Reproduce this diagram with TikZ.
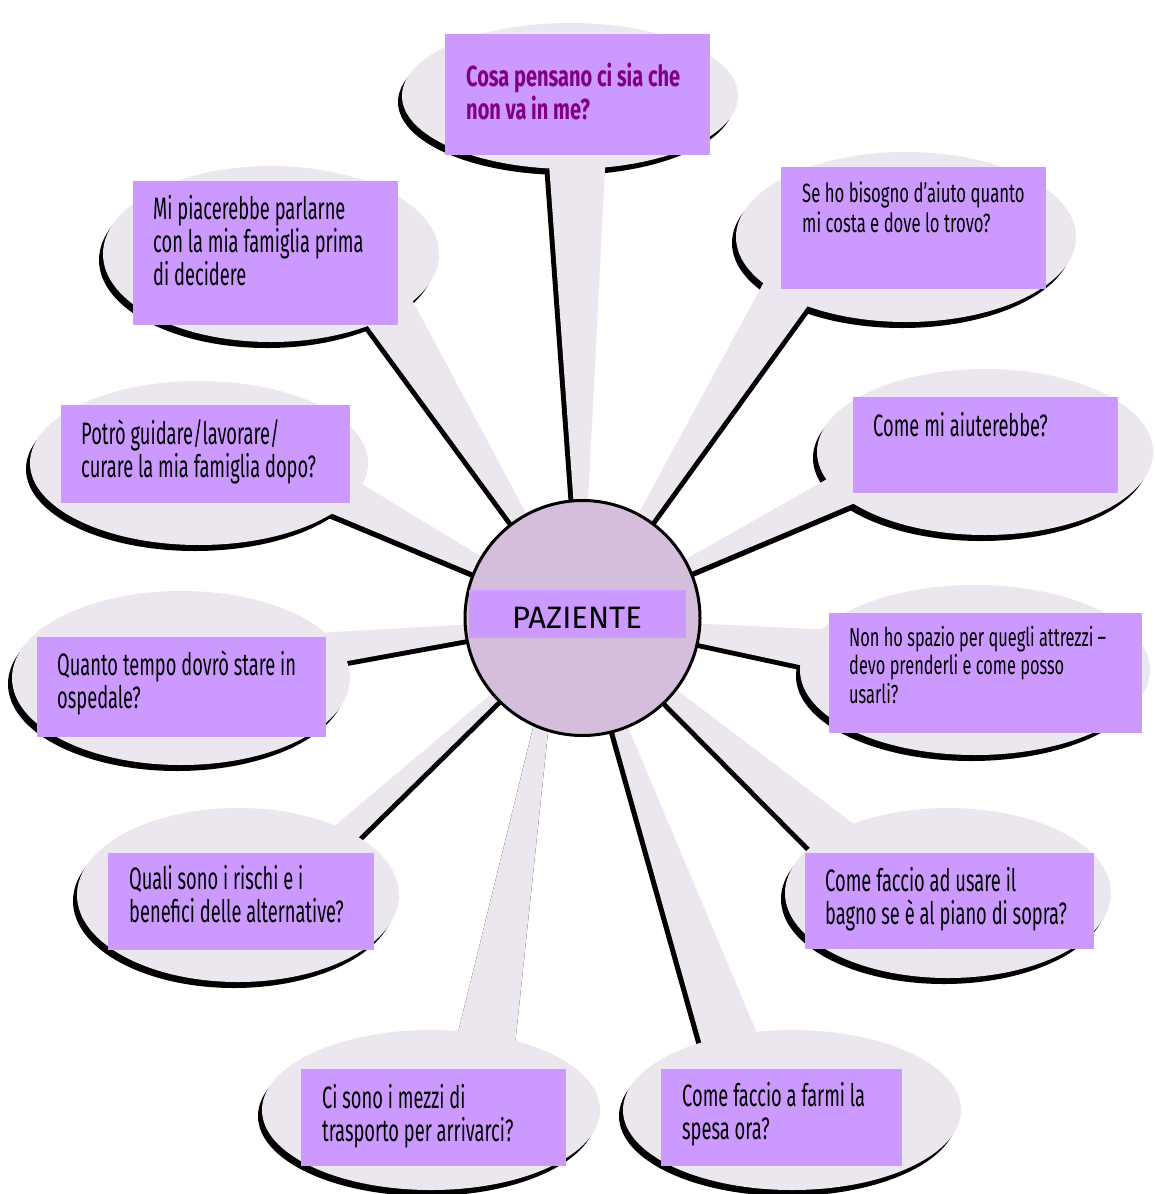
\documentclass[tikz,border=0pt]{standalone}
\usepackage{fontspec}
\setmainfont{Fira Sans}
\newfontfamily\qfont[FakeStretch=0.59]{Fira Sans}
\newfontfamily\qsfont[FakeStretch=0.63]{Fira Sans}
\newfontfamily\qbfont[FakeStretch=0.69]{Fira Sans}
\usetikzlibrary{shapes.geometric}
\definecolor{bubble}{HTML}{ECE6EE}
\definecolor{boxfill}{HTML}{CC99FF}
\definecolor{hubfill}{HTML}{D5BEDB}
\definecolor{toptext}{HTML}{800080}
\tikzset{
  qbox/.style={fill=boxfill, inner sep=0pt, anchor=north west},
  qtext/.style={anchor=north west, inner sep=0pt, align=left, font=\qfont\fontsize{31}{33}\selectfont},
  qsmall/.style={anchor=north west, inner sep=0pt, align=left, font=\qsfont\fontsize{26.5}{29.5}\selectfont},
}
\begin{document}
\begin{tikzpicture}[x=1pt,y=-1pt]
\useasboundingbox (0,0) rectangle (1155,1194);
\fill[white] (0,0) rectangle (1155,1194);
% ellipse centres and radii
\def\bubbles{1/570/96/168/73, 2/271/254/168/88, 3/906/237/170/85, 4/199/463/169/82, 5/985/452/168/83, 6/181/678/169/87, 7/975/670/175/85, 8/238/895/161/87, 9/948/893/163/85, 10/431/1110/169/80, 11/792/1110/169/80}
\def\tails{1/548/150/606/150/582/618/-5/0, 2/362/318/410/296/582/618/-4/3, 3/812/300/765/280/582/618/4/3, 4/328/512/352/478/582/618/-2/5, 5/862/500/850/466/582/618/2/5, 6/342/662/318/633/582/618/0/5, 7/832/672/832/630/582/618/0/5, 8/356/840/320/838/582/618/4/3, 9/812/850/855/825/582/618/-3.5/3.5, 10/515/1045/455/1045/560/618/0/0, 11/702/1045/762/1045/582/618/-5/1.3}
\foreach \n/\cx/\cy/\rx/\ry in \bubbles {
  \coordinate (c\n) at (\cx,\cy);
  \fill[black] ([shift={(-4,6)}]c\n) ellipse [x radius=\rx pt, y radius=\ry pt];
}
\foreach \n/\ax/\ay/\bx/\by/\tx/\ty/\ox/\oy in \tails {
  \coordinate (a\n) at (\ax,\ay);
  \coordinate (b\n) at (\bx,\by);
  \coordinate (t\n) at (\tx,\ty);
  \fill[black] ([shift={(\ox,\oy)}]a\n) -- ([shift={(\ox,\oy)}]b\n) -- ([shift={(\ox,\oy)}]t\n) -- cycle;
}
\foreach \n/\ax/\ay/\bx/\by/\tx/\ty/\ox/\oy in \tails {
  \fill[bubble] (a\n) -- (b\n) -- (t\n) -- cycle;
}
\foreach \n/\cx/\cy/\rx/\ry in \bubbles {
  \fill[bubble] (c\n) ellipse [x radius=\rx pt, y radius=\ry pt];
}
% question boxes
\node[qbox, minimum width=265pt, minimum height=121pt] (r1) at (445,34) {};
\node[qtext, font=\qbfont\bfseries\fontsize{29}{33}\selectfont, text=toptext] (q1) at (466,63) {Cosa pensano ci sia che\\non va in me?};
\node[qbox, minimum width=265pt, minimum height=144pt] (r2) at (133,181) {};
\node[qtext] (q2) at (153,195) {Mi piacerebbe parlarne\\con la mia famiglia prima\\di decidere};
\node[qbox, minimum width=265pt, minimum height=122pt] (r3) at (781,167) {};
\node[qsmall] (q3) at (802,182) {Se ho bisogno d’aiuto quanto\\mi costa e dove lo trovo?};
\node[qbox, minimum width=289pt, minimum height=98pt] (r4) at (61,405) {};
\node[qtext] (q4) at (81,419) {Potrò guidare/lavorare/\\curare la mia famiglia dopo?};
\node[qbox, minimum width=265pt, minimum height=96pt] (r5) at (853,397) {};
\node[qtext] (q5) at (873,412) {Come mi aiuterebbe?};
\node[qbox, minimum width=289pt, minimum height=100pt] (r6) at (37,637) {};
\node[qtext] (q6) at (57,650) {Quanto tempo dovrò stare in\\ospedale?};
\node[qbox, minimum width=313pt, minimum height=120pt] (r7) at (829,613) {};
\node[qsmall, font=\qsfont\fontsize{26}{28.5}\selectfont] (q7) at (849,626) {Non ho spazio per quegli attrezzi –\\devo prenderli e come posso\\usarli?};
\node[qbox, minimum width=266pt, minimum height=97pt] (r8) at (108,853) {};
\node[qtext] (q8) at (129,865) {Quali sono i rischi e i\\benefici delle alternative?};
\node[qbox, minimum width=289pt, minimum height=96pt] (r9) at (805,853) {};
\node[qtext] (q9) at (825,867) {Come faccio ad usare il\\bagno se è al piano di sopra?};
\node[qbox, minimum width=265pt, minimum height=97pt] (r10) at (301,1069) {};
\node[qtext] (q10) at (322,1084) {Ci sono i mezzi di\\trasporto per arrivarci?};
\node[qbox, minimum width=241pt, minimum height=97pt] (r11) at (661,1069) {};
\node[qtext] (q11) at (682,1082) {Come faccio a farmi la\\spesa ora?};
% hub
\node[circle, draw=black, line width=3pt, fill=hubfill, minimum size=235pt, inner sep=0pt] (hub) at (582.5,618) {};
\node[fill=boxfill, minimum width=217pt, minimum height=48pt, inner sep=0pt] (band) at (577.5,613.5) {};
\node[inner sep=0pt, font=\fontsize{31}{33}\selectfont] (pz) at (577,617.5) {PAZIENTE};
\end{tikzpicture}
\end{document}
